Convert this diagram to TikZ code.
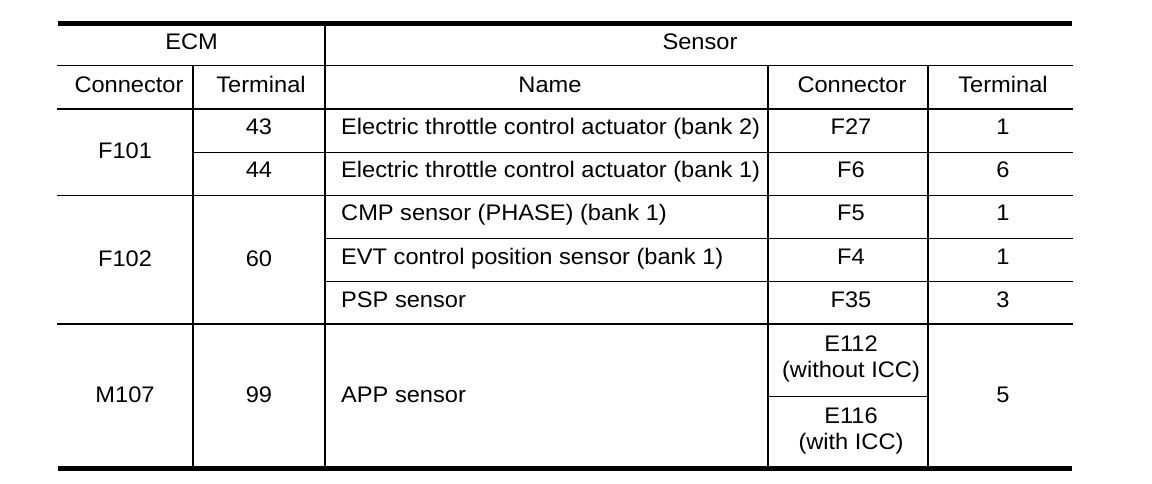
\documentclass[tikz,border=0pt]{standalone}
\usepackage{fontspec}
\setmainfont{Liberation Sans}[FakeStretch=1.05]
\begin{document}
\begin{tikzpicture}[x=1pt,y=-1pt,
  rule/.style={line width=1.6pt, line cap=rect},
  heavy/.style={line width=4.2pt},
  cell/.style={font=\fontsize{22.5}{26}\selectfont, inner sep=0pt, anchor=base},
  cellc/.style={font=\fontsize{22.5}{26}\selectfont, inner sep=0pt, anchor=center, align=center},
  leftcell/.style={cell, anchor=base west}]
\useasboundingbox (0,0) rectangle (1152,484);
\fill[white] (0,0) rectangle (1152,484);
% heavy rules
\draw[heavy] (58,23.5) -- (1072,23.5);
\draw[heavy] (58,468.5) -- (1072,468.5);
% full-width thin rules
\foreach \y in {65.5,109,195.5,324} \draw[rule] (58,\y) -- (1072,\y);
\draw[rule] (192.7,152.5) -- (1072,152.5);
\foreach \y in {238.5,281.5} \draw[rule] (325,\y) -- (1072,\y);
\draw[rule] (768,396.5) -- (928,396.5);
% verticals
\draw[rule] (325,23.5) -- (325,468.5);
\foreach \x in {192.7,768,928} \draw[rule] (\x,65.5) -- (\x,468.5);
% headers
\node[cell] (ecm) at (191.5,50) {ECM};
\node[cell] (sensor) at (700,50) {Sensor};
\node[cell] (hcon) at (129,93) {Connector};
\node[cell] (hterm) at (261,93) {Terminal};
\node[cell] (hname) at (550,93) {Name};
\node[cell] (hscon) at (852,93) {Connector};
\node[cell] (hsterm) at (1003,93) {Terminal};
% ECM connectors
\node[cell] (f101) at (125,159) {F101};
\node[cell] (f102) at (125,266) {F102};
\node[cell] (m107) at (125,402) {M107};
% ECM terminals
\node[cell] (t43) at (259,135) {43};
\node[cell] (t44) at (259,178) {44};
\node[cell] (t60) at (259,266) {60};
\node[cell] (t99) at (259,402) {99};
% names
\node[leftcell] (n1) at (341,135) {Electric throttle control actuator (bank 2)};
\node[leftcell] (n2) at (341,178) {Electric throttle control actuator (bank 1)};
\node[leftcell] (n3) at (341,221) {CMP sensor (PHASE) (bank 1)};
\node[leftcell] (n4) at (341,264) {EVT control position sensor (bank 1)};
\node[leftcell] (n5) at (341,307) {PSP sensor};
\node[leftcell] (n6) at (341,402) {APP sensor};
% sensor connectors
\node[cell] (c1) at (851,135) {F27};
\node[cell] (c2) at (851,178) {F6};
\node[cell] (c3) at (851,221) {F5};
\node[cell] (c4) at (851,264) {F4};
\node[cell] (c5) at (851,307) {F35};
\node[cellc] (c6) at (851,359) {E112\\(without ICC)};
\node[cellc] (c7) at (851,431) {E116\\(with ICC)};
% sensor terminals
\node[cell] (s1) at (1003,135) {1};
\node[cell] (s2) at (1003,178) {6};
\node[cell] (s3) at (1003,221) {1};
\node[cell] (s4) at (1003,264) {1};
\node[cell] (s5) at (1003,307) {3};
\node[cell] (s6) at (1003,402) {5};
\end{tikzpicture}
\end{document}
